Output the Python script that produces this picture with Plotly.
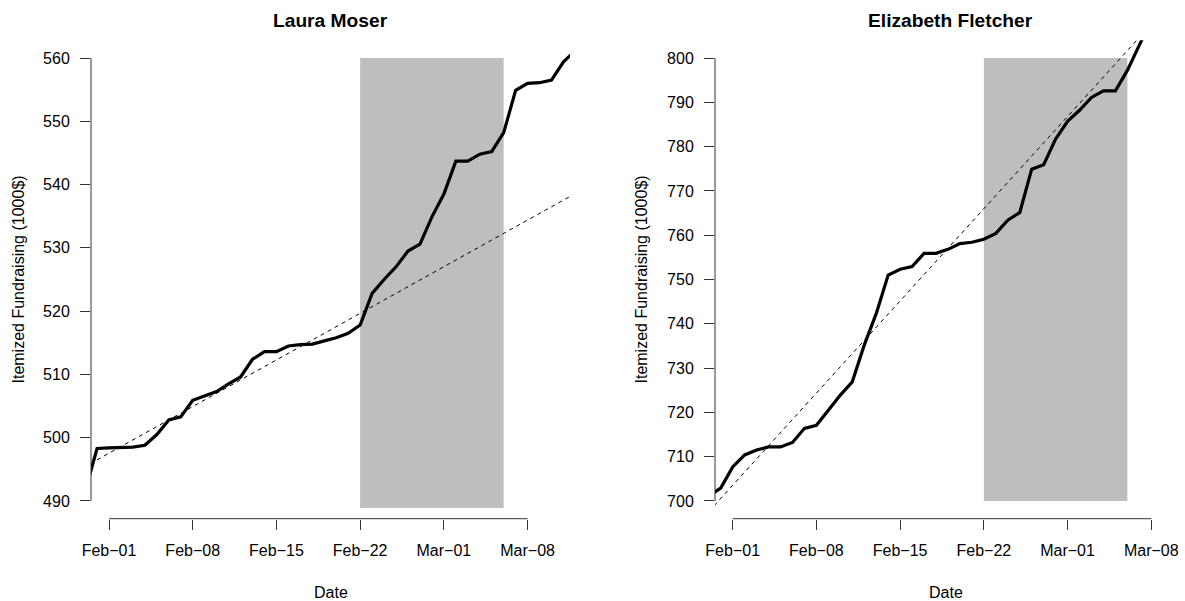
import pandas as pd
import plotly.graph_objects as go

W, H = 1185, 601

# ---------------- data ----------------
left_title = "Laura Moser"
right_title = "Elizabeth Fletcher"
x_title = "Date"
y_title = "Itemized Fundraising (1000$)"

left_dates = pd.date_range("2018-01-30", "2018-03-12", freq="D")
left_values = [491.5, 498.3, 498.4, 498.4, 498.5, 498.8, 500.5, 502.8, 503.3, 505.9,
               506.6, 507.3, 508.5, 509.6, 512.4, 513.6, 513.6, 514.5, 514.7, 514.8,
               515.3, 515.8, 516.5, 517.8, 522.8, 525.0, 527.0, 529.5, 530.6, 534.9,
               538.5, 543.7, 543.7, 544.8, 545.2, 548.2, 554.9, 556.0, 556.1, 556.5,
               559.4, 561.2]

right_dates = pd.date_range("2018-01-30", "2018-03-08", freq="D")
right_values = [701.2, 702.9, 707.7, 710.4, 711.5, 712.2, 712.2, 713.2, 716.4, 717.1,
                720.5, 723.9, 726.9, 735.2, 742.3, 751.0, 752.3, 752.9, 755.9, 755.9,
                756.8, 758.1, 758.4, 759.1, 760.4, 763.4, 765.1, 774.9, 775.9, 781.7,
                785.7, 788.2, 791.1, 792.6, 792.6, 797.2, 802.9, 808.6]

left_trend_dates = ["2018-01-31", "2018-03-12"]
left_trend_values = [496.5, 538.6]
right_trend_dates = ["2018-01-30", "2018-03-08"]
right_trend_values = [697.6, 807.6]

shade_dates = ["2018-02-22", "2018-03-06"]
left_shade_values = [488.9, 560]
right_shade_values = [700, 800]

x_tick_dates = ["2018-02-01", "2018-02-08", "2018-02-15", "2018-02-22", "2018-03-01", "2018-03-08"]
x_tick_text = ["Feb\u221201", "Feb\u221208", "Feb\u221215", "Feb\u221222", "Mar\u221201", "Mar\u221208"]
left_y_ticks = [490, 500, 510, 520, 530, 540, 550, 560]
right_y_ticks = [700, 710, 720, 730, 740, 750, 760, 770, 780, 790, 800]

# ---------------- layout geometry (pixels) ----------------
FONT = "Liberation Sans, Arial, Helvetica, sans-serif"
AX_COL = "#333333"
plot_top, plot_bottom = 40.3, 518.7
left_px = (91, 570)
right_px = (715, 1185)
ydom = [1 - plot_bottom / H, 1 - plot_top / H]

fig = go.Figure()

fig.add_trace(go.Scatter(x=left_dates, y=left_values, mode="lines",
                         line=dict(color="black", width=3.2), xaxis="x", yaxis="y",
                         hoverinfo="skip", showlegend=False))
fig.add_trace(go.Scatter(x=left_trend_dates, y=left_trend_values, mode="lines",
                         line=dict(color="black", width=1, dash="4px,4px"), xaxis="x", yaxis="y",
                         hoverinfo="skip", showlegend=False))
fig.add_trace(go.Scatter(x=right_dates, y=right_values, mode="lines",
                         line=dict(color="black", width=3.2), xaxis="x2", yaxis="y2",
                         hoverinfo="skip", showlegend=False))
fig.add_trace(go.Scatter(x=right_trend_dates, y=right_trend_values, mode="lines",
                         line=dict(color="black", width=1, dash="4px,4px"), xaxis="x2", yaxis="y2",
                         hoverinfo="skip", showlegend=False))

common_axis = dict(showgrid=False, zeroline=False, showline=False, ticks="outside",
                   ticklen=10, tickwidth=1, tickcolor=AX_COL,
                   tickfont=dict(family=FONT, size=16, color="black"),
                   ticklabelstandoff=7, automargin=False)

fig.update_layout(
    width=W, height=H, autosize=False,
    margin=dict(l=0, r=0, t=0, b=0, pad=0, autoexpand=False),
    paper_bgcolor="white", plot_bgcolor="white",
    showlegend=False,
    xaxis=dict(domain=[left_px[0] / W, left_px[1] / W], type="date",
               range=["2018-01-30 11:53", "2018-03-11 13:05"],
               tickvals=x_tick_dates, ticktext=x_tick_text, anchor="y", **common_axis),
    yaxis=dict(domain=ydom, range=[487.2, 562.8], tickvals=left_y_ticks,
               ticktext=[str(v) for v in left_y_ticks], anchor="x", **common_axis),
    xaxis2=dict(domain=[right_px[0] / W, right_px[1] / W], type="date",
                range=["2018-01-30 12:29", "2018-03-10 19:40"],
                tickvals=x_tick_dates, ticktext=x_tick_text, anchor="y2", **common_axis),
    yaxis2=dict(domain=ydom, range=[696, 804], tickvals=right_y_ticks,
                ticktext=[str(v) for v in right_y_ticks], anchor="x2", **common_axis),
)

# shaded periods
for xr, yr, vals in (("x", "y", left_shade_values), ("x2", "y2", right_shade_values)):
    fig.add_shape(type="rect", xref=xr, yref=yr, x0=shade_dates[0], x1=shade_dates[1],
                  y0=vals[0], y1=vals[1], fillcolor="#BEBEBE", line=dict(width=0), layer="below")

# R-style axis lines spanning the first to the last tick
for xr, yr, yt in (("x", "y", left_y_ticks), ("x2", "y2", right_y_ticks)):
    fig.add_shape(type="line", xref=xr + " domain", yref=yr, x0=0, x1=0,
                  y0=yt[0], y1=yt[-1], line=dict(color=AX_COL, width=1))
    fig.add_shape(type="line", xref=xr, yref=yr + " domain", x0=x_tick_dates[0], x1=x_tick_dates[-1],
                  y0=0, y1=0, line=dict(color=AX_COL, width=1))

# titles and axis labels
def px_x(p):
    return p / W

def px_y(p):
    return 1 - p / H

for cx, title in ((330.5, left_title), (951, right_title)):
    fig.add_annotation(text="<b>%s</b>" % title, x=px_x(cx), y=px_y(21), xref="paper", yref="paper",
                       showarrow=False, xanchor="center", yanchor="middle",
                       font=dict(family=FONT, size=19.2, color="black"))
for cx in (330.5, 946):
    fig.add_annotation(text=x_title, x=px_x(cx), y=px_y(592), xref="paper", yref="paper",
                       showarrow=False, xanchor="center", yanchor="middle",
                       font=dict(family=FONT, size=16, color="black"))
for cx in (18, 641):
    fig.add_annotation(text=y_title, x=px_x(cx), y=px_y((plot_top + plot_bottom) / 2),
                       xref="paper", yref="paper", textangle=-90,
                       showarrow=False, xanchor="center", yanchor="middle",
                       font=dict(family=FONT, size=16, color="black"))

post = ("var s=document.createElement('style');"
        "s.innerHTML='html,body{margin:0!important;padding:0!important;overflow:hidden!important;}';"
        "document.head.appendChild(s);window.scrollTo(0,0);")
fig.write_html("out.html", config={"displayModeBar": False}, post_script=post)
